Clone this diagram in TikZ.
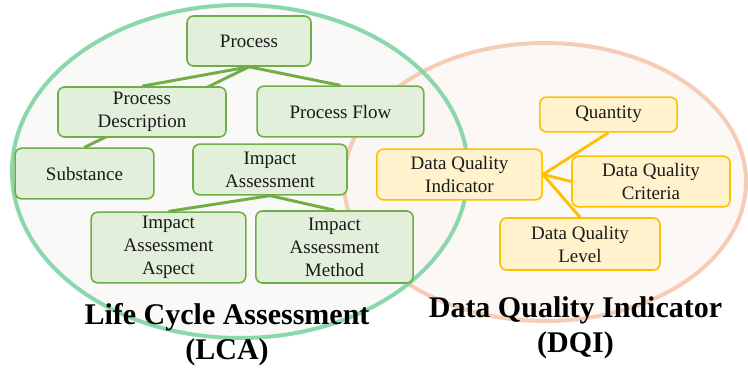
\documentclass[tikz,border=0pt]{standalone}
\usepackage{fontspec}
\setmainfont{Liberation Serif}
\pgfdeclarelayer{bg}
\pgfdeclarelayer{edges}
\pgfsetlayers{bg,edges,main}
\definecolor{gstroke}{HTML}{70AD47}
\definecolor{gfill}{HTML}{E2EFDA}
\definecolor{ostroke}{HTML}{FFC000}
\definecolor{ofill}{HTML}{FFF2CC}
\definecolor{gring}{HTML}{7FD4A4}
\definecolor{oring}{HTML}{F5C8AE}
\definecolor{gin}{HTML}{F9F9F7}
\definecolor{oin}{HTML}{FCF6F3}
\definecolor{txt}{HTML}{1A1A1A}
\tikzset{
  gbox/.style={draw=gstroke, fill=gfill, line width=1.2pt, rounded corners=5pt, inner sep=0pt, align=center, text=txt, font=\fontsize{14.25}{17.25}\selectfont},
  obox/.style={draw=ostroke, fill=ofill, line width=1.2pt, rounded corners=5pt, inner sep=0pt, align=center, text=txt, font=\fontsize{14.25}{17.25}\selectfont},
  gedge/.style={draw=gstroke, line width=2.2pt},
  oedge/.style={draw=ostroke, line width=2.2pt},
  title/.style={align=center, inner sep=0pt, text=black, font=\bfseries\fontsize{22.5}{26.25}\selectfont},
}
\begin{document}
\begin{tikzpicture}[x=0.75pt,y=-0.75pt]
\useasboundingbox (0,0) rectangle (748,371);
\begin{pgfonlayer}{bg}
  \fill[white] (0,0) rectangle (748,371);
  \fill[gin] (240,171.5) ellipse [x radius=228, y radius=166.5];
  \fill[oin, opacity=0.75] (545,182) ellipse [x radius=201, y radius=139];
  \draw[oring, line width=3pt, opacity=0.9] (545,182) ellipse [x radius=201, y radius=139];
  \draw[gring, line width=3pt, opacity=0.9] (240,171.5) ellipse [x radius=228, y radius=166.5];
\end{pgfonlayer}

% LCA nodes
\node[gbox, minimum width=93pt, minimum height=37.5pt] (proc) at (249,41) {Process};
\node[gbox, minimum width=126pt, minimum height=37.5pt] (pdesc) at (142,112) {Process\\Description};
\node[gbox, minimum width=125pt, minimum height=38pt] (pflow) at (340.5,111.5) {Process Flow};
\node[gbox, minimum width=104pt, minimum height=38pt] (subst) at (84.5,173.5) {Substance};
\node[gbox, minimum width=115.5pt, minimum height=38pt] (ia) at (270,169.5) {Impact\\Assessment};
\node[gbox, minimum width=116pt, minimum height=53pt] (iaa) at (168.5,247.5) {Impact\\Assessment\\Aspect};
\node[gbox, minimum width=118pt, minimum height=54pt] (iam) at (334.5,247) {Impact\\Assessment\\Method};

% DQI nodes
\node[obox, minimum width=103pt, minimum height=26pt] (qty) at (608.5,114.5) {Quantity};
\node[obox, minimum width=124pt, minimum height=38pt] (dqi) at (459.5,174.5) {Data Quality\\Indicator};
\node[obox, minimum width=118.5pt, minimum height=38pt] (dqc) at (651,181.5) {Data Quality\\Criteria};
\node[obox, minimum width=120pt, minimum height=39pt] (dql) at (580,244) {Data Quality\\Level};

\begin{pgfonlayer}{edges}
  \draw[gedge] (proc.south) -- (pdesc.north);
  \draw[gedge] (proc.south) -- (subst.north);
  \draw[gedge] (proc.south) -- (pflow.north);
  \draw[gedge] (ia.south) -- (iaa.north);
  \draw[gedge] (ia.south) -- (iam.north);
  \draw[oedge] (dqi.east) -- (qty.south);
  \draw[oedge] (dqi.east) -- (dqc.west);
  \draw[oedge] (dqi.east) -- (dql.north);
\end{pgfonlayer}

% Titles
\node[title] (lca) at (227,335) {Life Cycle Assessment\\(LCA)};
\node[title] (dqititle) at (575.5,328) {Data Quality Indicator\\(DQI)};
\end{tikzpicture}
\end{document}
